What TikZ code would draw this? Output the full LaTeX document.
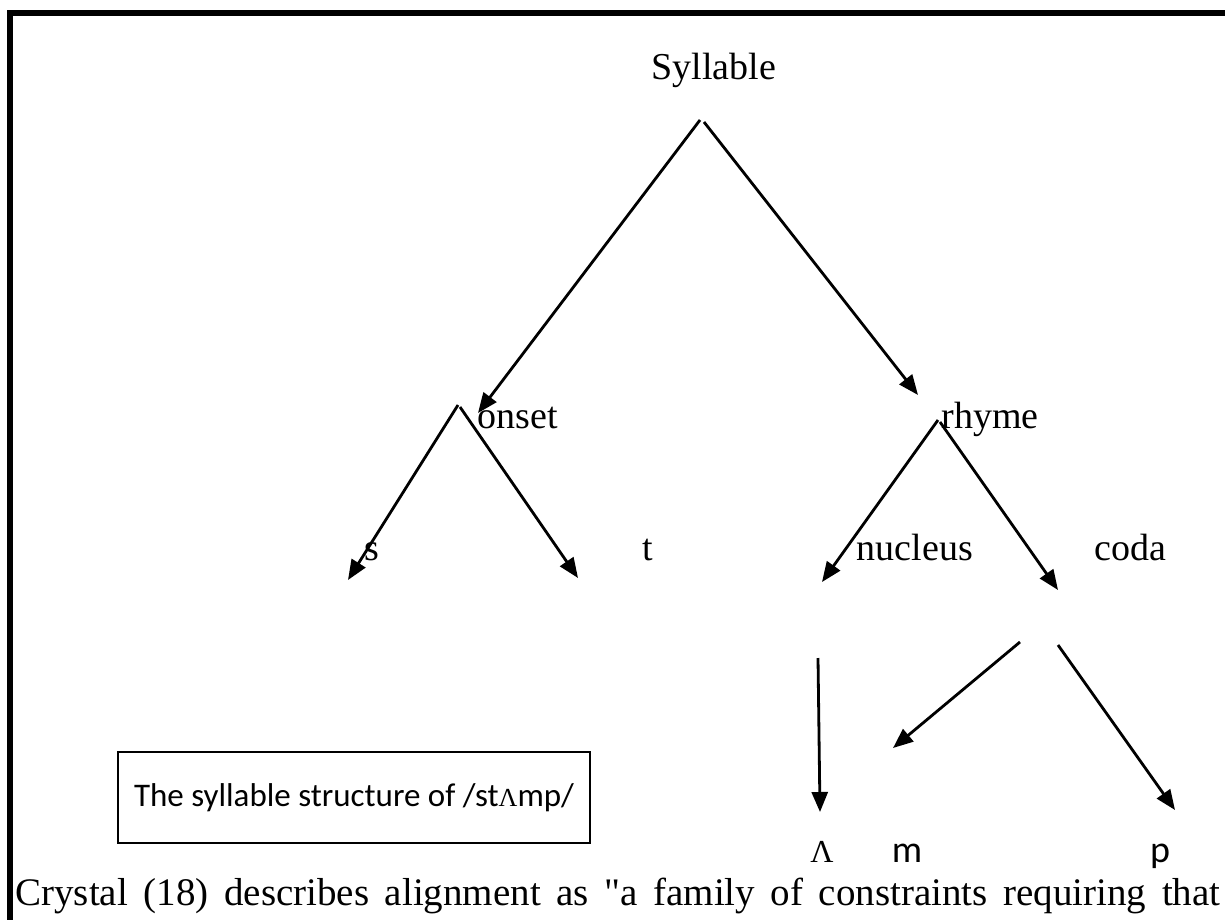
\documentclass[tikz,border=0pt]{standalone}
\usepackage{fontspec}
\setmainfont{Liberation Serif}
\newfontfamily\calibri{Carlito}
\usetikzlibrary{arrows.meta}

\tikzset{
	lbl/.style={anchor=base, inner sep=0pt, font=\fontsize{19}{22}\selectfont},
	sans/.style={lbl, font=\calibri\fontsize{19}{22}\selectfont},
	arr/.style={line width=1.4pt, -{Triangle[length=10pt,width=8pt]}}
}

\begin{document}
\begin{tikzpicture}[x=0.5pt,y=-0.5pt]
				\useasboundingbox (0,0) rectangle (1225,920);
				\draw[line width=3pt] (10,920) -- (10,13) -- (1225,13);
				
				\node[lbl] (syl) at (714,80) {Syllable};
				\node[lbl] (onset) at (518,428) {onset};
				\node[lbl] (rhyme) at (990,428) {rhyme};
				\node[lbl] (s) at (372,560) {s};
				\node[lbl] (t) at (648,560) {t};
				\node[lbl] (nuc) at (915,560) {nucleus};
				\node[lbl] (coda) at (1130,560) {coda};
				\node[lbl, font=\fontsize{16}{19}\selectfont] (lam) at (822,862) {Λ};
				\node[sans] (m) at (907,862) {m};
				\node[sans] (p) at (1160,862) {p};
				
				\node[draw, line width=0.9pt, minimum width=236pt, minimum height=45.5pt,
					font=\calibri\fontsize{16.5}{19}\selectfont] (cap) at (354,797.5)
					{The syllable structure of /st{\rmfamily\fontsize{13}{15}\selectfont Λ}mp/};
				
				\node[anchor=base west, inner sep=0pt, font=\fontsize{19.5}{23}\selectfont] (txt) at (15,905)
					{\makebox[602.5pt][s]{Crystal (18) describes alignment as \textquotedbl a family of constraints requiring that}};
				
				\coordinate (syl1) at (700,120);
				\coordinate (syl2) at (704,122);
				\coordinate (on1) at (458,405);
				\coordinate (on2) at (460,407);
				\coordinate (rh1) at (938,420);
				\coordinate (rh2) at (940,422);
				\coordinate (nu1) at (818,658);
				\coordinate (co1) at (1020,642);
				\coordinate (co2) at (1058,645);
				
				\coordinate (onsetT) at (478,413);
				\coordinate (rhymeT) at (918,395);
				\coordinate (sT) at (348,580);
				\coordinate (tT) at (578,578);
				\coordinate (nucT) at (822,582);
				\coordinate (codaT) at (1058,590);
				\coordinate (lamT) at (820,812);
				\coordinate (mT) at (893,748);
				\coordinate (pT) at (1175,810);
				
				\foreach \a/\b in {syl1/onsetT,syl2/rhymeT,on1/sT,on2/tT,rh1/nucT,rh2/codaT,nu1/lamT,co1/mT,co2/pT}{
					\draw[arr] (\a) -- (\b);}
\end{tikzpicture}
\end{document}
